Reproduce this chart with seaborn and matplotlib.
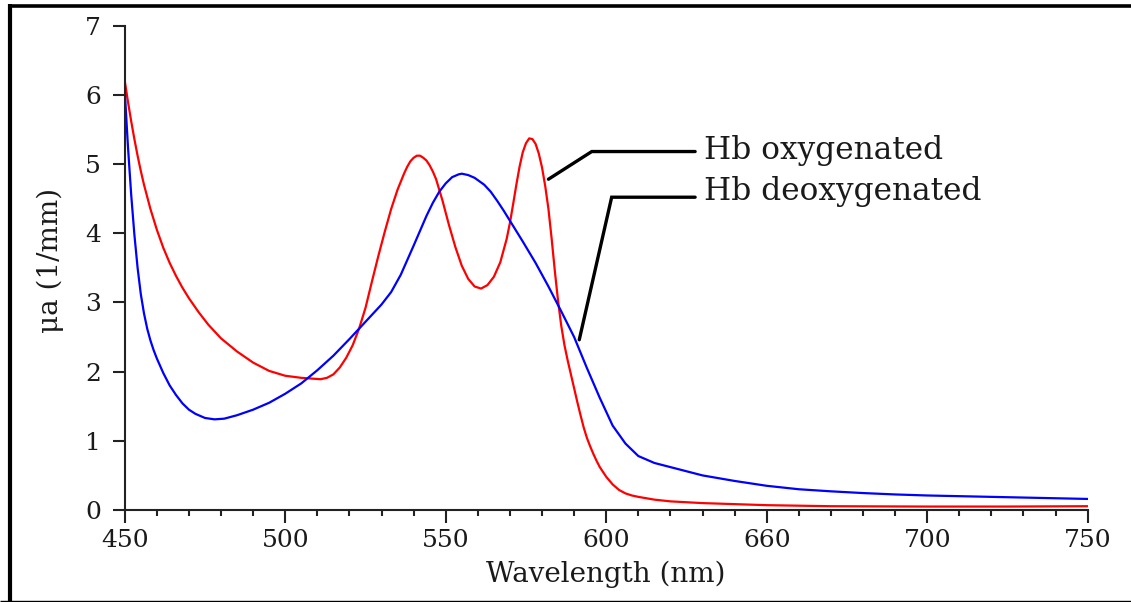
import numpy as np
import pandas as pd
import matplotlib
matplotlib.use("Agg")
import matplotlib.pyplot as plt
from matplotlib.ticker import FixedLocator, MultipleLocator
from matplotlib.lines import Line2D
import seaborn as sns

# ---- data ----
oxy_wl = [450, 451, 452, 453, 454, 455, 456, 458, 460, 462, 464, 466, 468, 470, 473,
          476, 480, 485, 490, 495, 500, 505, 508, 511, 513, 515, 517, 519, 521, 523,
          525, 527, 529, 531, 533, 535, 537, 538, 539, 540, 541, 542, 543, 544, 545,
          546, 547, 549, 551, 553, 555, 557, 559, 561, 563, 565, 567, 569, 570, 571,
          572, 573, 574, 575, 576, 577, 578, 579, 580, 581, 582, 583, 584, 585, 586,
          587, 588, 589, 590, 591, 592, 593, 594, 595, 596, 597, 598, 600, 602, 604,
          606, 608, 610, 615, 620, 630, 640, 650, 670, 700, 725, 750]
oxy_mu = [6.20, 5.90, 5.62, 5.36, 5.12, 4.90, 4.70, 4.35, 4.05, 3.79, 3.57, 3.38, 3.21, 3.06, 2.86,
          2.68, 2.48, 2.29, 2.13, 2.01, 1.94, 1.91, 1.90, 1.89, 1.91, 1.96, 2.06, 2.20, 2.38, 2.62,
          2.92, 3.30, 3.67, 4.02, 4.35, 4.63, 4.86, 4.96, 5.04, 5.09, 5.12, 5.12, 5.09, 5.05, 4.98,
          4.89, 4.78, 4.47, 4.12, 3.80, 3.53, 3.34, 3.23, 3.20, 3.25, 3.37, 3.58, 3.92, 4.15, 4.42,
          4.70, 4.96, 5.17, 5.30, 5.37, 5.36, 5.29, 5.15, 4.95, 4.68, 4.35, 3.92, 3.45, 3.02, 2.66,
          2.38, 2.16, 1.96, 1.76, 1.56, 1.37, 1.19, 1.04, 0.92, 0.81, 0.71, 0.62, 0.48, 0.37, 0.29,
          0.24, 0.21, 0.19, 0.15, 0.125, 0.10, 0.085, 0.07, 0.055, 0.05, 0.05, 0.055]

deoxy_wl = [450, 451, 452, 453, 454, 455, 456, 457, 458, 459, 460, 462, 464, 466, 468,
            470, 472, 475, 478, 481, 485, 490, 495, 500, 505, 510, 515, 520, 525, 530,
            533, 536, 540, 544, 546, 548, 550, 552, 554, 555, 557, 559, 562, 564, 566,
            568, 570, 574, 578, 582, 586, 590, 594, 598, 602, 606, 610, 615, 620, 630,
            640, 650, 660, 670, 680, 690, 700, 720, 740, 750]
deoxy_mu = [6.05, 5.25, 4.56, 3.98, 3.50, 3.12, 2.84, 2.62, 2.45, 2.31, 2.19, 1.98, 1.80, 1.66, 1.54,
            1.45, 1.39, 1.33, 1.31, 1.32, 1.37, 1.45, 1.55, 1.68, 1.83, 2.02, 2.23, 2.47, 2.72, 2.97,
            3.15, 3.40, 3.82, 4.25, 4.44, 4.60, 4.72, 4.81, 4.85, 4.86, 4.84, 4.80, 4.70, 4.60, 4.47,
            4.33, 4.18, 3.88, 3.57, 3.23, 2.87, 2.50, 2.05, 1.62, 1.22, 0.96, 0.78, 0.68, 0.62, 0.50,
            0.42, 0.35, 0.30, 0.27, 0.245, 0.225, 0.21, 0.19, 0.17, 0.16]

series_names = ["Hb oxygenated", "Hb deoxygenated"]
x_ticks = [450, 500, 550, 600, 650, 700, 750]
x_tick_labels = ["450", "500", "550", "600", "660", "700", "750"]
y_ticks = [0, 1, 2, 3, 4, 5, 6, 7]

df = pd.concat([
    pd.DataFrame({"wl": oxy_wl, "mu": oxy_mu, "series": series_names[0]}),
    pd.DataFrame({"wl": deoxy_wl, "mu": deoxy_mu, "series": series_names[1]}),
], ignore_index=True)

# ---- style ----
sns.set_style("ticks")
plt.rcParams["font.family"] = ["DejaVu Serif"]
text_color = "#1a1a1a"

fig = plt.figure(figsize=(11.31, 6.02), dpi=100)
ax = fig.add_axes([0.1103, 0.1528, 0.8514, 0.8047])

sns.lineplot(data=df, x="wl", y="mu", hue="series",
             palette={series_names[0]: "#ff0000", series_names[1]: "#0000ff"},
             linewidth=1.6, ax=ax, legend=False, estimator=None, sort=False)

ax.set_xlim(450, 750)
ax.set_ylim(0, 7)
ax.xaxis.set_major_locator(FixedLocator(x_ticks))
ax.set_xticklabels(x_tick_labels)
ax.xaxis.set_minor_locator(MultipleLocator(10))
ax.yaxis.set_major_locator(FixedLocator(y_ticks))
ax.set_yticklabels([str(v) for v in y_ticks])

sns.despine(ax=ax)
for s in ["left", "bottom"]:
    ax.spines[s].set_linewidth(1.5)
    ax.spines[s].set_color("#222222")
ax.tick_params(axis="both", which="major", direction="out", length=9, width=1.5,
               color="#222222", labelsize=18, labelcolor=text_color)
ax.tick_params(axis="x", which="major", pad=5)
ax.tick_params(axis="y", which="major", pad=8)
ax.tick_params(axis="x", which="minor", direction="out", length=4.5, width=1.5, color="#222222")

ax.set_xlabel("Wavelength (nm)", fontsize=20, color=text_color, labelpad=6)
ax.set_ylabel("μa (1/mm)", fontsize=20, color=text_color, labelpad=15)
ax.yaxis.label.set_y(0.515)

# annotations (leader lines + labels)
ax.plot([582.0, 595.5, 627.7], [4.78, 5.18, 5.18], color="black", linewidth=2.4,
        solid_joinstyle="miter", clip_on=False)
ax.plot([591.6, 601.7, 627.7], [2.46, 4.52, 4.52], color="black", linewidth=2.4,
        solid_joinstyle="miter", clip_on=False)
ax.text(630.6, 5.19, series_names[0], fontsize=22.5, color=text_color, va="center", ha="left")
ax.text(630.6, 4.60, series_names[1], fontsize=22.5, color=text_color, va="center", ha="left")

# outer frame
fig.add_artist(Line2D([10 / 1131, 10 / 1131], [0, 1 - 4 / 602], transform=fig.transFigure,
                      color="black", linewidth=3.0, solid_capstyle="butt"))
fig.add_artist(Line2D([8 / 1131, 1], [1 - 5.5 / 602, 1 - 5.5 / 602], transform=fig.transFigure,
                      color="black", linewidth=2.6, solid_capstyle="butt"))
fig.add_artist(Line2D([0, 1], [1.2 / 602, 1.2 / 602], transform=fig.transFigure,
                      color="black", linewidth=1.0, solid_capstyle="butt"))

fig.savefig("out.png", dpi=100)
